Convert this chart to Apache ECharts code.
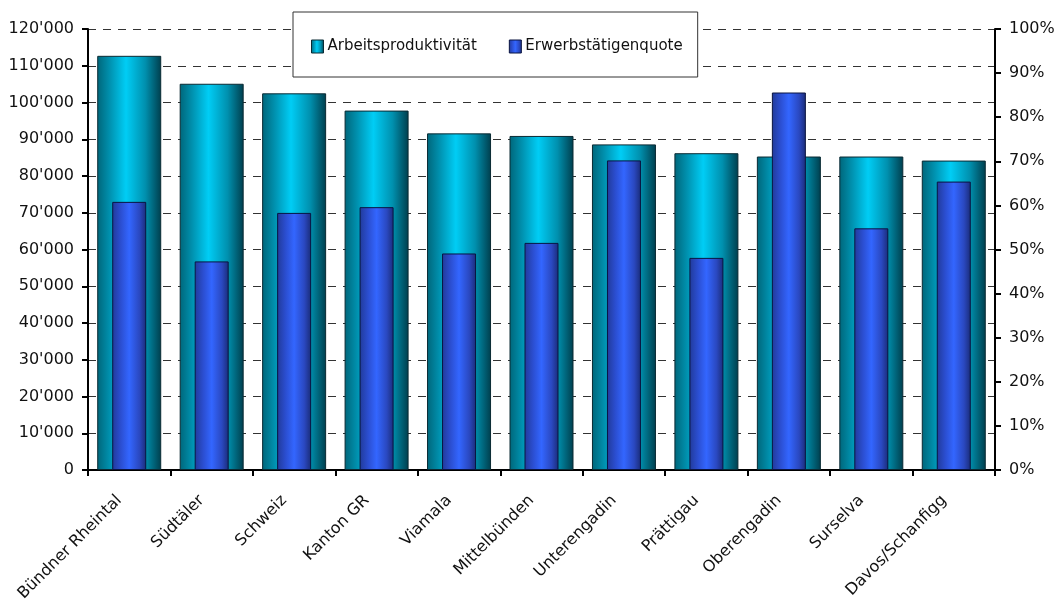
<!DOCTYPE html>
<html>
<head>
<meta charset="utf-8">
<script src="https://cdn.jsdelivr.net/npm/echarts@6/dist/echarts.min.js"></script>
<style>
html,body{margin:0;padding:0;background:#fff;}
#chart{width:1061px;height:601px;}
</style>
</head>
<body>
<div id="chart"></div>
<script>
const categories = ['Bündner Rheintal','Südtäler','Schweiz','Kanton GR','Viamala','Mittelbünden','Unterengadin','Prättigau','Oberengadin','Surselva','Davos/Schanfigg'];
const arbeitsproduktivitaet = [112700, 105100, 102500, 97800, 91600, 90900, 88600, 86200, 85300, 85300, 84200];
const erwerbstaetigenquote = [60.8, 47.3, 58.3, 59.6, 49.1, 51.5, 70.2, 48.1, 85.6, 54.8, 65.4];
const seriesNames = ['Arbeitsproduktivität', 'Erwerbstätigenquote'];
const leftTicks = {min: 0, max: 120000, interval: 10000};
const rightTicks = {min: 0, max: 100, interval: 10};

const FONT = '"DejaVu Sans", Verdana, sans-serif';
const chart = echarts.init(document.getElementById('chart'), null, {renderer: 'canvas'});

const cyanGrad = new echarts.graphic.LinearGradient(0, 0, 1, 0, [
  {offset: 0, color: '#00667a'},
  {offset: 0.2, color: '#0092b0'},
  {offset: 0.45, color: '#00cdf5'},
  {offset: 0.75, color: '#0090ae'},
  {offset: 1, color: '#003e4d'}
]);
const blueGrad = new echarts.graphic.LinearGradient(0, 0, 1, 0, [
  {offset: 0, color: '#213a99'},
  {offset: 0.25, color: '#2b4ed0'},
  {offset: 0.5, color: '#3366ff'},
  {offset: 0.8, color: '#2a48c0'},
  {offset: 1, color: '#1a2c78'}
]);

function fmtThousands(v) {
  return String(v).replace(/\B(?=(\d{3})+(?!\d))/g, "'");
}

const option = {
  backgroundColor: '#ffffff',
  animation: false,
  textStyle: {fontFamily: FONT},
  grid: {left: 88, right: 66, top: 29, bottom: 131, containLabel: false, outerBoundsMode: 'none'},
  legend: {
    left: 293, top: 12,
    padding: [27, 15, 23, 18],
    itemGap: 32,
    itemWidth: 12, itemHeight: 13,
    backgroundColor: '#ffffff',
    borderColor: '#333333', borderWidth: 1,
    textStyle: {fontFamily: FONT, fontSize: 15, color: '#111', padding: [0, 0, 0, -1]},
    data: [
      {name: seriesNames[0], icon: 'rect', itemStyle: {color: cyanGrad, borderColor: '#0a2a33', borderWidth: 1}},
      {name: seriesNames[1], icon: 'rect', itemStyle: {color: blueGrad, borderColor: '#0a1440', borderWidth: 1}}
    ]
  },
  xAxis: [
    {
      type: 'category', data: categories, position: 'bottom',
      axisLine: {lineStyle: {color: '#000', width: 2}},
      axisTick: {show: true, length: 6, lineStyle: {color: '#000', width: 2}},
      axisLabel: {rotate: 45, interval: 0, fontFamily: FONT, fontSize: 16, color: '#111', margin: 18, padding: [0, 14, 0, 0]},
      splitLine: {show: false}
    },
    {
      type: 'category', data: categories, position: 'bottom', show: false
    }
  ],
  yAxis: [
    {
      type: 'value', min: leftTicks.min, max: leftTicks.max, interval: leftTicks.interval,
      axisLine: {show: true, lineStyle: {color: '#000', width: 2}},
      axisTick: {show: true, length: 6, lineStyle: {color: '#000', width: 2}},
      axisLabel: {fontFamily: FONT, fontSize: 16, color: '#111', margin: 14, formatter: fmtThousands},
      splitLine: {show: true, lineStyle: {color: '#333', width: 1, type: [8, 7]}}
    },
    {
      type: 'value', min: rightTicks.min, max: rightTicks.max, interval: rightTicks.interval, position: 'right',
      axisLine: {show: true, lineStyle: {color: '#000', width: 2}},
      axisTick: {show: true, length: 6, lineStyle: {color: '#000', width: 2}},
      axisLabel: {fontFamily: FONT, fontSize: 16, color: '#111', margin: 14, formatter: '{value}%'},
      splitLine: {show: false}
    }
  ],
  series: [
    {
      name: seriesNames[0], type: 'bar', xAxisIndex: 0, yAxisIndex: 0,
      data: arbeitsproduktivitaet, barWidth: 64,
      itemStyle: {color: cyanGrad, borderColor: '#0a2a33', borderWidth: 1}
    },
    {
      name: seriesNames[1], type: 'bar', xAxisIndex: 1, yAxisIndex: 1,
      data: erwerbstaetigenquote, barWidth: 34,
      itemStyle: {color: blueGrad, borderColor: '#0a1440', borderWidth: 1}
    }
  ]
};
chart.setOption(option);
</script>
</body>
</html>
